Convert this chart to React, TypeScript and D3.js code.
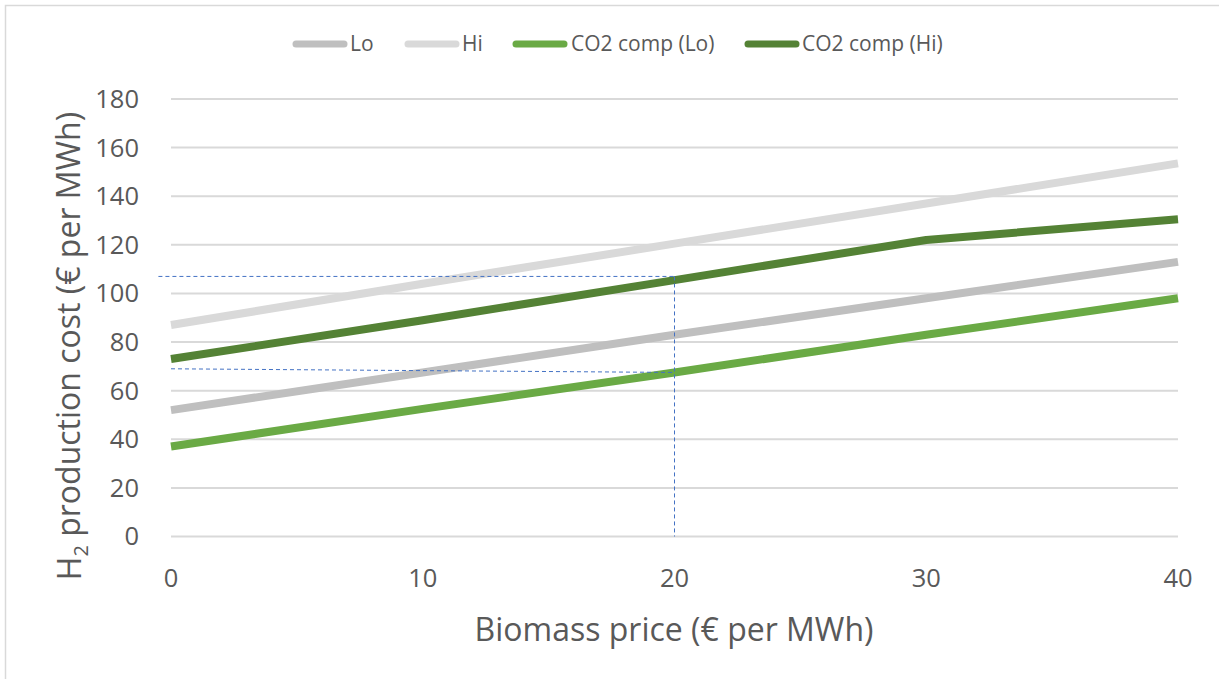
import React from "react";
import * as d3 from "d3";

// Biomass price (€ per MWh)
const biomassPrice = [0, 10, 20, 30, 40];

// H2 production cost (€ per MWh) per scenario
const costLo = [52, 67.5, 83, 98, 113];
const costHi = [87, 104, 120.5, 137, 153.5];
const costCo2Lo = [37, 52.5, 67.5, 83, 98];
const costCo2Hi = [73, 89, 105.5, 122, 130.5];

const seriesNames = ["Lo", "Hi", "CO2 comp (Lo)", "CO2 comp (Hi)"];
const seriesColors = ["#BFBFBF", "#D9D9D9", "#6AAA45", "#548235"];

const yTicks = [0, 20, 40, 60, 80, 100, 120, 140, 160, 180];
const xTicks = [0, 10, 20, 30, 40];

const guideUpper = [
  { x: -0.5, y: 107 },
  { x: 20, y: 107 },
];
const guideLower = [
  { x: 0, y: 69 },
  { x: 20, y: 67.5 },
];
const guideVertical = [
  { x: 20, y: 107 },
  { x: 20, y: 0 },
];

const W = 1219;
const H = 679;
const FONT = "'Open Sans', sans-serif";
const TEXT = "#595959";

export default function App() {
  const x = d3.scaleLinear().domain([0, 40]).range([171, 1178]);
  const y = d3.scaleLinear().domain([0, 180]).range([536.5, 99]);

  const series = [costLo, costHi, costCo2Lo, costCo2Hi];
  const line = d3
    .line<number>()
    .x((_, i) => x(biomassPrice[i]))
    .y((d) => y(d));

  const guide = d3
    .line<{ x: number; y: number }>()
    .x((d) => x(d.x))
    .y((d) => y(d.y));

  const legendItems = [
    { x0: 296, tx: 350 },
    { x0: 408, tx: 462 },
    { x0: 516, tx: 571 },
    { x0: 748, tx: 802 },
  ];

  return (
    <svg
      width={W}
      height={H}
      style={{ position: "absolute", left: 0, top: 0, background: "#fff" }}
      fontFamily={FONT}
    >
      <rect x={5.5} y={5.5} width={W + 20} height={H + 20} fill="#fff" stroke="#D9D9D9" strokeWidth={1.5} />

      {/* horizontal gridlines */}
      {yTicks.map((t) => (
        <line
          key={t}
          x1={x(0)}
          x2={x(40)}
          y1={y(t)}
          y2={y(t)}
          stroke="#D9D9D9"
          strokeWidth={2}
        />
      ))}

      {/* y tick labels */}
      {yTicks.map((t) => (
        <text
          key={t}
          x={139}
          y={y(t)}
          dy="0.35em"
          textAnchor="end"
          fontSize={25.5}
          fill={TEXT}
        >
          {t}
        </text>
      ))}

      {/* x tick labels */}
      {xTicks.map((t) => (
        <text
          key={t}
          x={x(t)}
          y={578}
          dy="0.35em"
          textAnchor="middle"
          fontSize={25.5}
          fill={TEXT}
        >
          {t}
        </text>
      ))}

      {/* series */}
      {series.map((s, i) => (
        <path
          key={i}
          d={line(s) || ""}
          fill="none"
          stroke={seriesColors[i]}
          strokeWidth={8}
          strokeLinejoin="round"
        />
      ))}

      {/* dashed guides */}
      {[guideUpper, guideLower, guideVertical].map((g, i) => (
        <path
          key={i}
          d={guide(g) || ""}
          fill="none"
          stroke="#4472C4"
          strokeWidth={1}
          strokeDasharray="4 3"
        />
      ))}

      {/* axis titles */}
      <text x={674} y={630} dy="0.35em" textAnchor="middle" fontSize={32} fill={TEXT}>
        Biomass price (€ per MWh)
      </text>
      <text
        transform="translate(70,346) rotate(-90)"
        textAnchor="middle"
        dy="0.35em"
        fontSize={32}
        fill={TEXT}
      >
        H<tspan fontSize={20} dy="0.35em">2</tspan>
        <tspan dy="-0.25em"> production cost (€ per MWh)</tspan>
      </text>

      {/* legend */}
      {seriesNames.map((n, i) => (
        <g key={n}>
          <line
            x1={legendItems[i].x0}
            x2={legendItems[i].x0 + 48}
            y1={44}
            y2={44}
            stroke={seriesColors[i]}
            strokeWidth={7}
            strokeLinecap="round"
          />
          <text x={legendItems[i].tx} y={44} dy="0.35em" fontSize={21} fill={TEXT}>
            {n}
          </text>
        </g>
      ))}
    </svg>
  );
}
